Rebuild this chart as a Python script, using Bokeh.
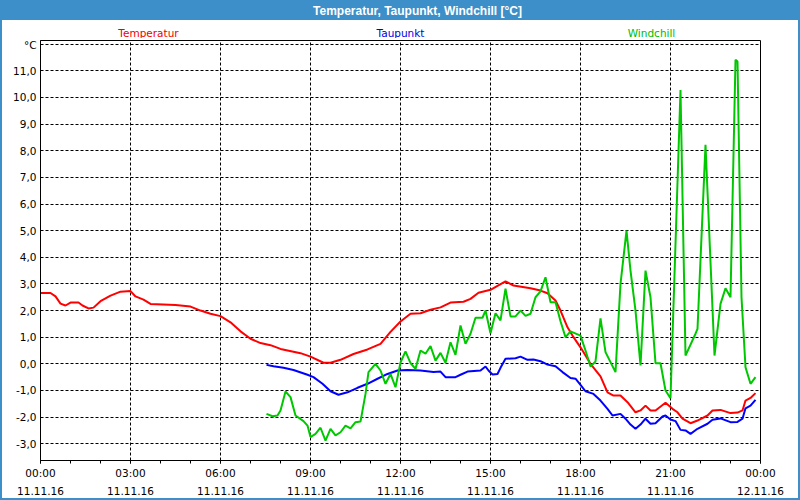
from bokeh.plotting import figure
from bokeh.layouts import column
from bokeh.models import FixedTicker, Label, Range1d
from bokeh.embed import file_html
from bokeh.resources import INLINE

# time axis: minutes since 00:00 on 11.11.16
temp_t = [0, 20, 30, 40, 50, 60, 76, 84, 96, 106, 120, 140, 160, 180, 190, 206, 220, 270, 300, 320,
          340, 360, 380, 400, 420, 440, 460, 480, 520, 540, 566, 580, 600, 626, 654, 680, 700, 720, 740, 760,
          780, 800, 820, 846, 860, 876, 900, 914, 930, 946, 980, 1000, 1014, 1030, 1040, 1054, 1066, 1080, 1100, 1120,
          1134, 1146, 1160, 1174, 1190, 1200, 1210, 1220, 1230, 1250, 1264, 1274, 1284, 1300, 1314, 1334, 1344, 1360, 1380, 1394,
          1404, 1410, 1420, 1430]
temp_v = [2.66, 2.66, 2.53, 2.26, 2.19, 2.30, 2.30, 2.19, 2.08, 2.11, 2.35, 2.56, 2.71, 2.73, 2.53, 2.41, 2.25, 2.21, 2.15, 2.00,
          1.88, 1.79, 1.56, 1.22, 0.94, 0.78, 0.70, 0.56, 0.40, 0.27, 0.04, 0.04, 0.15, 0.37, 0.54, 0.75, 1.20, 1.59, 1.88, 1.90,
          2.03, 2.12, 2.30, 2.33, 2.44, 2.67, 2.78, 2.93, 3.10, 2.94, 2.84, 2.75, 2.65, 2.38, 2.00, 1.37, 1.00, 0.62, 0.00, -0.47,
          -1.07, -1.19, -1.19, -1.44, -1.82, -1.75, -1.57, -1.75, -1.75, -1.46, -1.69, -1.82, -2.06, -2.23, -2.13, -1.94, -1.75, -1.73, -1.85, -1.83,
          -1.75, -1.38, -1.28, -1.10]

dew_t = [452, 466, 486, 506, 534, 546, 564, 580, 596, 614, 634, 654, 674, 694, 714, 734, 760, 786, 800, 810,
         830, 840, 854, 880, 890, 896, 904, 914, 920, 930, 950, 960, 974, 986, 1000, 1014, 1030, 1044, 1060, 1070,
         1080, 1090, 1106, 1120, 1134, 1144, 1160, 1170, 1180, 1190, 1200, 1210, 1220, 1230, 1244, 1250, 1260, 1270, 1280, 1290,
         1300, 1314, 1334, 1344, 1360, 1380, 1394, 1404, 1410, 1420, 1430]
dew_v = [-0.04, -0.09, -0.15, -0.23, -0.41, -0.50, -0.75, -1.03, -1.16, -1.07, -0.90, -0.75, -0.56, -0.38, -0.25, -0.23, -0.25, -0.31, -0.29, -0.50,
         -0.50, -0.41, -0.29, -0.25, -0.10, -0.25, -0.40, -0.38, -0.15, 0.19, 0.21, 0.27, 0.15, 0.16, 0.10, -0.03, -0.09, -0.31, -0.53, -0.56,
         -0.79, -1.03, -1.13, -1.38, -1.69, -1.94, -1.88, -2.06, -2.28, -2.44, -2.28, -2.06, -2.25, -2.23, -1.98, -1.94, -2.09, -2.15, -2.48, -2.50,
         -2.63, -2.44, -2.25, -2.10, -2.05, -2.19, -2.18, -2.06, -1.67, -1.57, -1.35]

wc_t = [452, 464, 474, 480, 490, 500, 510, 526, 534, 540, 550, 560, 570, 580, 590, 600, 610, 620, 630, 640,
        650, 656, 670, 680, 690, 700, 710, 720, 730, 740, 750, 760, 770, 780, 790, 800, 810, 820, 830, 840,
        850, 860, 870, 884, 890, 900, 910, 920, 930, 940, 950, 960, 970, 980, 990, 1000, 1010, 1020, 1030, 1040,
        1050, 1060, 1080, 1090, 1100, 1110, 1120, 1130, 1150, 1160, 1172, 1180, 1190, 1200, 1210, 1220, 1230, 1240, 1250, 1260,
        1270, 1280, 1290, 1310, 1314, 1330, 1348, 1360, 1370, 1380, 1390, 1394, 1402, 1410, 1420, 1430]
wc_v = [-1.88, -1.97, -1.94, -1.75, -1.04, -1.25, -1.94, -2.15, -2.32, -2.75, -2.63, -2.40, -2.88, -2.44, -2.69, -2.57, -2.32, -2.42, -2.19, -2.17,
        -1.13, -0.31, 0.00, -0.25, -0.75, -0.38, -0.88, 0.05, 0.47, 0.03, -0.19, 0.50, 0.38, 0.67, 0.12, 0.41, 0.04, 0.81, 0.34, 1.44,
        0.75, 1.13, 1.73, 1.73, 2.00, 1.15, 1.90, 1.63, 2.82, 1.78, 1.78, 2.00, 1.80, 1.88, 2.50, 2.72, 3.25, 2.31, 2.31, 1.60,
        1.00, 1.22, 1.06, 0.50, -0.10, 0.09, 1.71, 0.44, -0.31, 3.00, 5.00, 3.50, 2.00, -0.06, 3.50, 2.50, 0.02, 0.02, -1.00, -1.29,
        4.50, 10.28, 0.31, 1.13, 1.31, 8.22, 0.31, 2.25, 2.84, 2.50, 11.42, 11.35, 2.50, -0.13, -0.75, -0.50]

x_ticks = [0, 180, 360, 540, 720, 900, 1080, 1260, 1440]
x_tick_labels = ["00:00\n11.11.16", "03:00\n11.11.16", "06:00\n11.11.16", "09:00\n11.11.16",
                 "12:00\n11.11.16", "15:00\n11.11.16", "18:00\n11.11.16", "21:00\n11.11.16",
                 "00:00\n12.11.16"]
x_minor_ticks = [0, 60, 120, 180, 240, 300, 360, 420, 480, 540, 600, 660, 720, 780, 840, 900,
                 960, 1020, 1080, 1140, 1200, 1260, 1320, 1380, 1440]
y_ticks = [-3, -2, -1, 0, 1, 2, 3, 4, 5, 6, 7, 8, 9, 10, 11, 12]
y_tick_labels = ["-3,0", "-2,0", "-1,0", "0,0", "1,0", "2,0", "3,0", "4,0", "5,0", "6,0", "7,0",
                 "8,0", "9,0", "10,0", "11,0", "°C"]

title_text = "Temperatur, Taupunkt, Windchill [°C]"
series_names = ["Temperatur", "Taupunkt", "Windchill"]
series_colors = ["#ff0000", "#0000ff", "#00c800"]
label_colors = ["#ee0000", "#0000dd", "#00bb00"]

BAR = "#3c8fc8"
FONT = "DejaVu Sans"
W = 800
HEAD_H = 38
MAIN_H = 462
FRAME_LEFT = 40

side_border = f"inset 2px 0 0 0 {BAR}, inset -2px 0 0 0 {BAR}"

# ---------- header: title bar + series names ----------
head = figure(width=W, height=HEAD_H, output_backend="svg", toolbar_location=None,
              x_range=Range1d(0, 1), y_range=Range1d(0, 1),
              x_axis_location=None, y_axis_location=None,
              min_border_left=FRAME_LEFT, min_border_right=40, min_border_top=0, min_border_bottom=0,
              background_fill_alpha=0, border_fill_alpha=0,
              styles={"background": f"linear-gradient(to bottom, {BAR} 0px, {BAR} 20px, white 20px, white 100%)",
                      "box-shadow": side_border})
head.outline_line_color = None
head.grid.visible = False
head.add_layout(Label(x=417 - FRAME_LEFT, y=HEAD_H - 10, x_units="screen", y_units="screen", text=title_text,
                      text_align="center", text_baseline="middle", text_color="white",
                      text_font="Liberation Sans", text_font_style="bold", text_font_size="12px"))
legend_x = [148, 400, 651]
for name, col, lx in zip(series_names, label_colors, legend_x):
    head.add_layout(Label(x=lx - FRAME_LEFT, y=6, x_units="screen", y_units="screen", text=name,
                          text_align="center", text_baseline="middle", text_color=col,
                          text_font=FONT, text_font_size="10.5px"))

# ---------- main chart ----------
p = figure(width=W, height=MAIN_H, output_backend="svg", toolbar_location=None,
           x_range=Range1d(0, 1440), y_range=Range1d(-3.63, 12.14),
           min_border_left=FRAME_LEFT, min_border_right=40, min_border_top=2, min_border_bottom=40,
           background_fill_color="white", border_fill_alpha=0,
           styles={"box-shadow": side_border + f", inset 0 -2px 0 0 {BAR}"})

p.outline_line_color = "black"
p.outline_line_width = 1
p.outline_line_alpha = 1

p.line(temp_t, temp_v, line_color=series_colors[0], line_width=2)
p.line(dew_t, dew_v, line_color=series_colors[1], line_width=2)
p.line(wc_t, wc_v, line_color=series_colors[2], line_width=2)

p.xaxis.ticker = FixedTicker(ticks=x_ticks, minor_ticks=x_minor_ticks)
p.xaxis.major_label_overrides = dict(zip(x_ticks, x_tick_labels))
p.xaxis.major_tick_out = 3
p.xaxis.major_tick_in = 0
p.xaxis.minor_tick_out = 3
p.xaxis.minor_tick_in = 0
p.xaxis.major_label_standoff = 3
p.xaxis.major_label_text_line_height = 1.5

p.yaxis.ticker = FixedTicker(ticks=y_ticks, minor_ticks=[])
p.yaxis.major_label_overrides = dict(zip(y_ticks, y_tick_labels))
p.yaxis.major_tick_out = 0
p.yaxis.major_tick_in = 0
p.yaxis.minor_tick_out = 0
p.yaxis.minor_tick_in = 0
p.yaxis.major_label_standoff = 4

for ax in (p.xaxis, p.yaxis):
    ax.axis_line_color = "black"
    ax.major_tick_line_color = "black"
    ax.minor_tick_line_color = "black"
    ax.major_label_text_font = FONT
    ax.major_label_text_font_size = "10.5px"
    ax.major_label_text_color = "black"

p.grid.grid_line_color = "black"
p.grid.grid_line_dash = "3 2"
p.grid.grid_line_width = 1
p.grid.grid_line_alpha = 1

layout = column(head, p, spacing=0)
open("out.html", "w").write(file_html(layout, INLINE))
